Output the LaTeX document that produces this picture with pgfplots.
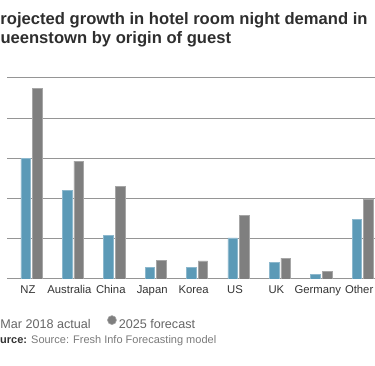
\documentclass[border=0pt]{standalone}
\usepackage{pgfplots}
\pgfplotsset{compat=1.18}
\usepackage{fontspec}
\setmainfont{Liberation Sans}
\definecolor{cblue}{HTML}{5C9AB7}
\definecolor{cblueedge}{HTML}{8DB8CD}
\definecolor{cgray}{HTML}{7F7F7F}
\definecolor{cgrayedge}{HTML}{A6A6A6}
\definecolor{cgrid}{HTML}{959595}
\definecolor{ctitle}{HTML}{2E2E2E}
\definecolor{ctext}{HTML}{333333}
\definecolor{clegend}{HTML}{666666}
\definecolor{csource}{HTML}{7A7A7A}
\begin{document}
\begin{tikzpicture}[x=1pt,y=1pt]
\useasboundingbox (0,0) rectangle (375,366);
\clip (0,0) rectangle (375,366);
\node[anchor=base west, inner sep=0pt, text=ctitle, font=\bfseries\fontsize{16.6}{19.5}\selectfont] at (0.3,341.5) {\llap{P}rojected growth in hotel room night demand in};
\node[anchor=base west, inner sep=0pt, text=ctitle, font=\bfseries\fontsize{16.6}{19.5}\selectfont] at (0.3,322) {\llap{Q}ueenstown by origin of guest};
\node[anchor=base west, inner sep=0pt, font=\fontsize{11}{13}\selectfont] at (0,22.7) {\textcolor{ctext}{\bfseries\llap{So}urce:} \textcolor{csource}{Source: Fresh Info Forecasting model}};
\begin{axis}[
  at={(7pt,87pt)}, anchor=south west,
  scale only axis, width=380.5pt, height=201pt,
  xmin=-0.592, xmax=8.6, ymin=0, ymax=5,
  ybar, bar width=9.5pt,
  axis line style={draw=none},
  ytick={0,1,2,3,4,5}, yticklabels={},
  ymajorgrids, grid style={cgrid, line width=1pt},
  xtick={0,1,2,3,4,5,6,7,8},
  xticklabels={NZ,Australia,China,Japan,Korea,US,UK,Germany,Other},
  major tick length=0pt,
  xticklabel style={anchor=base, yshift=-15pt, xshift=-3.5pt, text=ctext, font=\fontsize{11.3}{13}\selectfont},
  legend style={draw=none, fill=none, inner sep=0pt, outer sep=0pt,
    at={(axis description cs:0,0)}, anchor=west, xshift=-18.2pt, yshift=-44pt,
    legend columns=2, font=\fontsize{12.6}{14}\selectfont, text=clegend,
    nodes={inner xsep=2pt, inner ysep=1pt},
    /tikz/every even column/.append style={column sep=14.4pt}},
  legend image code/.code={\fill[#1] (0pt,4.3pt) circle (4.5pt);},
]
\addplot[fill=cblue, draw=cblueedge, line width=0.6pt, bar shift=-5.8pt] coordinates {
 (0,3.00) (1,2.21) (2,1.08) (3,0.29) (4,0.29) (5,1.02) (6,0.41) (7,0.12) (8,1.48)};
\addplot[fill=cgray, draw=cgrayedge, line width=0.6pt, bar shift=5.8pt] coordinates {
 (0,4.74) (1,2.93) (2,2.31) (3,0.46) (4,0.45) (5,1.59) (6,0.52) (7,0.18) (8,1.98)};
\legend{Mar 2018 actual, 2025 forecast}
\end{axis}
\end{tikzpicture}
\end{document}
